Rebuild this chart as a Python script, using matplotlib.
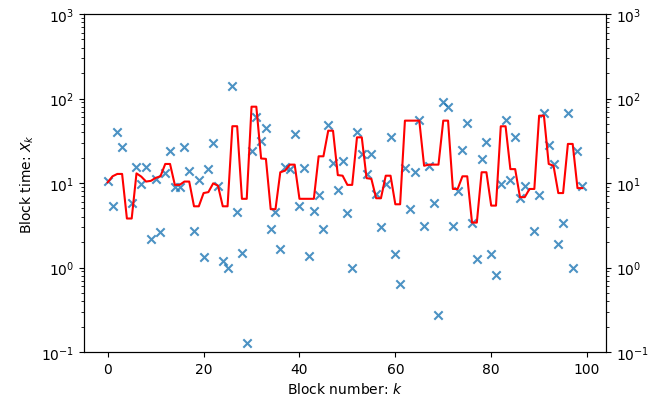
import matplotlib
matplotlib.use("Agg")
import matplotlib.pyplot as plt
import numpy as np

# block number k = 0..99
k = np.arange(100)

# observed block times X_k (k=4 and k=88 lie below the visible range, not shown)
block_time = [
    10.6, 5.4, 40, 27, np.nan, 5.8, 15.6, 9.7, 15.6, 2.2,
    11.2, 2.6, 13.1, 24, 8.9, 8.9, 27, 13.8, 2.7, 10.8,
    1.32, 14.6, 29.5, 9.3, 1.2, 0.99, 141, 4.5, 1.5, 0.128,
    24, 61, 31, 44.5, 2.86, 4.5, 1.66, 15.3, 14.6, 38,
    5.4, 15, 1.38, 4.7, 7.2, 2.86, 48.5, 17.3, 8.3, 18.4,
    4.4, 0.99, 40, 22, 12.8, 22, 7.4, 3.0, 9.7, 34.7,
    1.44, 0.64, 14.9, 4.9, 13.6, 55.7, 3.1, 16, 5.8, 0.274,
    90, 79, 3.1, 8.1, 24.8, 51, 3.4, 1.26, 19.2, 30.8,
    1.44, 0.82, 9.7, 56, 10.9, 34.7, 6.6, 9.1, np.nan, 2.73,
    7.2, 68, 28, 17, 1.9, 3.4, 67, 0.99, 24, 9.3,
]

# red smoothed curve
smoothed = [
    10.2, 12.0, 12.8, 12.8, 3.8, 3.8, 13.0, 11.9, 10.4, 10.6,
    11.5, 12.0, 16.8, 16.8, 9.5, 9.5, 10.4, 10.4, 5.3, 5.3,
    7.6, 7.8, 9.9, 9.3, 5.3, 5.3, 47, 47, 6.5, 6.5,
    80, 80, 19.5, 19.3, 4.9, 4.9, 13.4, 14.0, 16.5, 16.5,
    6.5, 6.5, 6.5, 6.5, 20.7, 20.7, 41.6, 41.6, 12.4, 12.2,
    9.5, 9.5, 34.7, 34.7, 11.4, 11.2, 6.6, 6.6, 12.2, 12.2,
    5.6, 5.6, 54.7, 54.7, 54.7, 54.7, 16.0, 16.5, 16.5, 16.5,
    54.7, 54.7, 8.5, 8.5, 12.0, 12.0, 3.4, 3.4, 13.4, 13.4,
    5.4, 5.4, 46.9, 46.9, 14.6, 14.6, 6.8, 6.8, 8.5, 8.5,
    62.6, 62.6, 16.8, 16.0, 7.6, 7.6, 29, 29, 8.7, 8.7,
]

fig = plt.figure(figsize=(6.5, 4.06), dpi=100)
ax = fig.add_axes([84 / 650, 53 / 406, 522 / 650, 338 / 406])

ax.scatter(k, block_time, marker="x", color="C0", alpha=0.8)
ax.plot(k, smoothed, color="red", lw=1.5)

ax.set_yscale("log")
ax.set_ylim(0.1, 1000)
ax.set_xlabel("Block number: $k$")
ax.set_ylabel("Block time: $X_k$")

# same log scale repeated on the right
ax2 = ax.twinx()
ax2.set_yscale("log")
ax2.set_ylim(0.1, 1000)

fig.savefig("out.png", dpi=100)
